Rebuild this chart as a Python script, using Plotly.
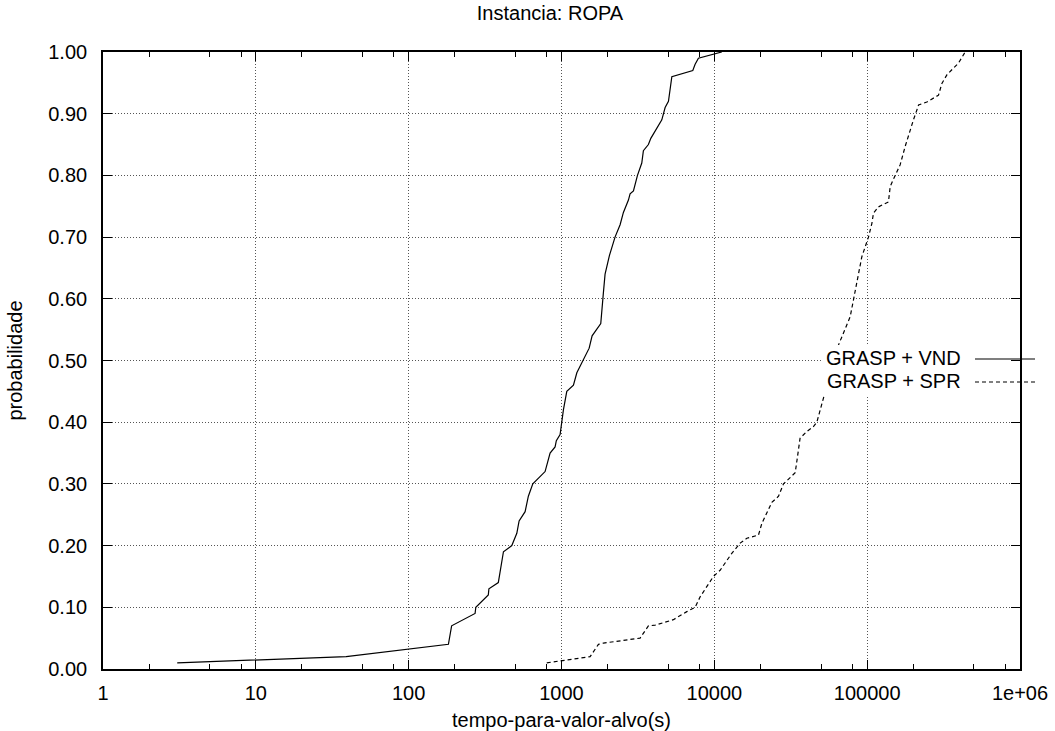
import plotly.graph_objects as go

# ---- data ----
vnd_time = [3.06, 39, 182, 191, 272, 275, 332, 335, 386, 417, 473, 510, 528, 578, 607, 649,
            781, 842, 908, 925, 979, 1029, 1083, 1197, 1260, 1390, 1517, 1586, 1807, 1880,
            1928, 2058, 2188, 2240, 2418, 2541, 2741, 2810, 2956, 3141, 3352, 3434, 3704,
            3841, 4533, 4765, 5010, 5272, 7230, 7487, 7870, 11190]
vnd_prob = [0.01, 0.02, 0.04, 0.07, 0.09, 0.10, 0.12, 0.13, 0.14, 0.19, 0.20, 0.22, 0.24,
            0.255, 0.28, 0.30, 0.32, 0.35, 0.36, 0.37, 0.38, 0.42, 0.45, 0.46, 0.48, 0.50,
            0.52, 0.54, 0.56, 0.61, 0.64, 0.67, 0.69, 0.70, 0.72, 0.74, 0.76, 0.77, 0.775,
            0.80, 0.82, 0.84, 0.85, 0.86, 0.89, 0.91, 0.92, 0.96, 0.97, 0.98, 0.99, 1.00]

spr_time = [801, 1538, 1745, 1880, 3267, 3704, 4100, 5398, 6607, 7487, 8076, 9862, 10910,
            13010, 14760, 16320, 19440, 20460, 23780, 26300, 28340, 33810, 35000, 36390,
            40300, 44510, 46860, 49770, 53090, 64880, 77430, 81300, 85510, 92240, 102000,
            107300, 110000, 118600, 137800, 141500, 152500, 164300, 177300, 191100, 200800,
            211500, 216800, 245600, 292900, 308300, 332400, 367500, 395800, 437700]
spr_prob = [0.01, 0.02, 0.04, 0.042, 0.05, 0.07, 0.071, 0.08, 0.093, 0.10, 0.117, 0.15, 0.16,
            0.1875, 0.204, 0.212, 0.217, 0.236, 0.27, 0.28, 0.30, 0.318, 0.344, 0.374, 0.385,
            0.393, 0.40, 0.425, 0.449, 0.525, 0.571, 0.598, 0.625, 0.668, 0.70, 0.722, 0.739,
            0.749, 0.757, 0.782, 0.80, 0.817, 0.847, 0.874, 0.89, 0.906, 0.914, 0.919, 0.93,
            0.949, 0.963, 0.974, 0.982, 1.00]

series_names = ["GRASP + VND", "GRASP + SPR"]
x_tickvals = [1, 10, 100, 1000, 10000, 100000, 1000000]
x_ticktext = ["1", "10", "100", "1000", "10000", "100000", "1e+06"]
x_minor = [m * 10 ** k for k in range(6) for m in (2, 5, 8)]
y_tickvals = [i / 10 for i in range(11)]

title_text = "Instancia: ROPA"
x_title = "tempo-para-valor-alvo(s)"
y_title = "probabilidade"

# ---- layout geometry (pixels) ----
W, H = 1055, 731
L, R, T, B = 103, 1020, 52, 669
FONT = dict(family="Liberation Sans, Arial, sans-serif", size=20, color="black")


def px_x(p):
    return (p - L) / (R - L)


def px_y(p):
    return (B - p) / (B - T)


fig = go.Figure()
fig.add_trace(go.Scatter(x=vnd_time, y=vnd_prob, mode="lines", name=series_names[0],
                         line=dict(color="black", width=1.2), showlegend=False))
fig.add_trace(go.Scatter(x=spr_time, y=spr_prob, mode="lines", name=series_names[1],
                         line=dict(color="black", width=1.2, dash="4px,3px"), showlegend=False))

axis_common = dict(showline=True, linecolor="black", linewidth=1.6, mirror="ticks",
                   ticks="inside", ticklen=9, tickwidth=1, tickcolor="black",
                   showgrid=True, gridcolor="#555555", gridwidth=1, griddash="1px,2px",
                   zeroline=False, tickfont=FONT, automargin=False)

fig.update_xaxes(type="log", range=[0, 6], tickmode="array", tickvals=x_tickvals,
                 ticktext=x_ticktext,
                 minor=dict(tickmode="array", tickvals=x_minor, ticks="inside", ticklen=5,
                            tickwidth=1, tickcolor="black", showgrid=False),
                 ticklabelstandoff=5,
                 title=dict(text=x_title, font=FONT, standoff=12),
                 **axis_common)
fig.update_yaxes(range=[0, 1], tickmode="array", tickvals=y_tickvals, tickformat=".2f",
                 title=dict(text=y_title, font=FONT, standoff=20),
                 ticklabelstandoff=10,
                 **axis_common)

# opaque legend area (gnuplot key) covering curve/grid behind the text
fig.add_shape(type="rect", xref="paper", yref="paper",
              x0=px_x(822), x1=px_x(1010), y0=px_y(395), y1=px_y(345),
              fillcolor="white", line=dict(width=0), layer="above")

legend_rows = [(series_names[0], 358, "solid"), (series_names[1], 381, "4px,3px")]
for name, ypx, dash in legend_rows:
    fig.add_annotation(text=name, xref="paper", yref="paper", x=px_x(963), y=px_y(ypx),
                       xanchor="right", yanchor="middle", showarrow=False, font=FONT)
    fig.add_shape(type="line", xref="paper", yref="paper",
                  x0=px_x(975), x1=px_x(1035), y0=px_y(ypx + 1), y1=px_y(ypx + 1),
                  line=dict(color="black", width=1.2, dash=dash), layer="above")

fig.update_layout(
    width=W, height=H,
    margin=dict(l=L, r=W - R, t=T, b=H - B, pad=0, autoexpand=False),
    paper_bgcolor="white", plot_bgcolor="white",
    font=FONT,
    title=dict(text=title_text, xref="container", yref="container",
               x=550 / W, y=1 - 13 / H, xanchor="center", yanchor="middle",
               font=FONT, automargin=False),
    showlegend=False,
)

fig.write_html("out.html", config={"displayModeBar": False},
               post_script="document.body.style.margin='0';")
